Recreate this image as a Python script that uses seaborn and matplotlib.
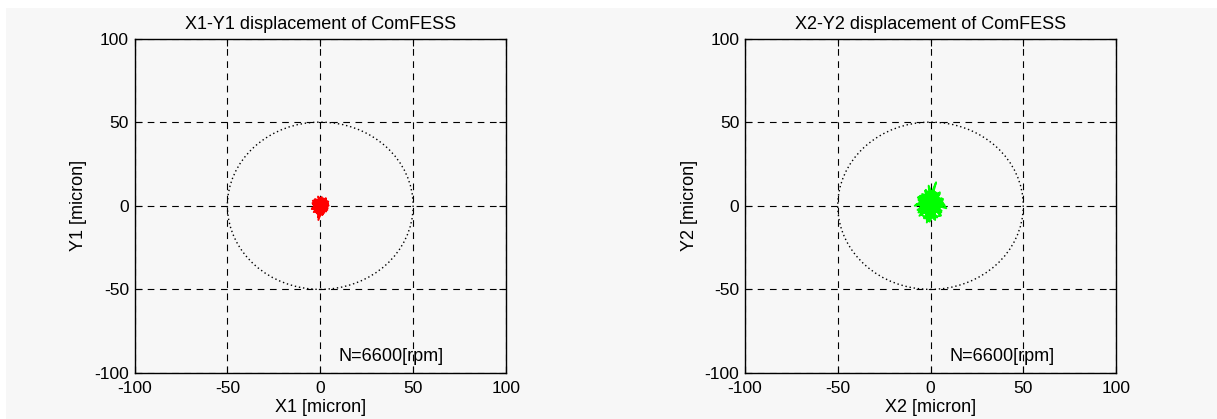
import matplotlib
matplotlib.use("Agg")
import matplotlib.pyplot as plt
import seaborn as sns
import pandas as pd
from matplotlib.patches import Rectangle, Circle

# ---- data ----
titles = ["X1-Y1 displacement of ComFESS", "X2-Y2 displacement of ComFESS"]
xlabels = ["X1 [micron]", "X2 [micron]"]
ylabels = ["Y1 [micron]", "Y2 [micron]"]
ticks = [-100, -50, 0, 50, 100]
clearance_radius = 50
speed_label = "N=6600[rpm]"

orbit1_x = [0.0, 3.0, -3.5, 4.2, -4.0, 1.5, -1.2, 3.8, -3.6, 0.8, -0.6, 4.5, -2.8, 2.2, -4.4,
            2.9, -1.0, 0.2, 4.0, -4.2, 1.4, -2.0, 3.1, -3.0, -0.4, 4.3, -4.5, 1.6, -1.6, 0.7,
            -1.2, 2.2, -3.2, 3.2, 0.0, 2.6, -2.4, 1.0, -3.8, 3.6, -0.8, 0.3]
orbit1_y = [0.0, 4.5, -3.8, 1.2, 3.0, -5.0, 5.5, -2.5, -1.0, 5.2, -4.8, 0.2, 4.0, -4.2, -1.5,
            3.6, -8.5, 4.6, -1.5, 1.6, -5.2, 3.2, 4.0, -3.0, -6.0, 2.5, -2.0, 4.4, -4.0, 1.5,
            -6.8, 0.4, 3.4, -3.4, 0.2, -2.0, 2.2, -5.5, 0.8, 2.8, 4.8, -0.5]

orbit2_x = [0.0, 5.0, -6.0, 6.5, -6.8, 2.0, -2.5, 5.8, -5.5, 1.0, -1.5, 7.0, -4.5, 3.5, -7.0,
            4.5, -2.0, 2.0, 8.5, -6.5, 2.5, -3.5, 5.0, -5.0, -0.5, 6.0, -8.5, 2.8, -2.8, 1.5,
            -2.0, 4.0, -5.5, 5.5, 0.0, 3.0, 1.5, -4.0, 6.5, -6.0, 0.5, -1.0, 4.5, -7.5, 7.5,
            -3.0, 2.5, 0.5, -5.0, 6.0, -6.5, 4.0, -4.0, 5.5, -3.5, 6.8, -6.0, 3.0]
orbit2_y = [1.5, 8.0, -6.0, 3.0, 5.0, -8.0, 9.5, -4.0, -1.0, 9.0, -8.5, 1.0, 7.0, -7.0, -2.5,
            6.5, -10.0, 8.5, -1.5, 3.5, -8.0, 6.0, 7.0, -5.0, -9.5, 4.5, 0.0, 8.0, -6.5, 3.0,
            -9.0, 1.5, 6.0, -5.5, 2.0, 14.0, 10.0, -3.0, 2.0, 5.5, -7.0, 12.0, -3.5, 1.0, 0.5,
            9.0, -8.5, 2.0, 6.0, -3.0, -4.0, 7.5, 6.5, -6.0, -7.5, 4.0, 3.5, -2.0]

orbit_colors = ["#ff0000", "#00ff00"]

# ---- figure ----
sns.set_style("ticks")
plt.rcParams['font.family'] = ['Liberation Sans', 'DejaVu Sans']
plt.rcParams['font.size'] = 13
plt.rcParams['axes.unicode_minus'] = False
plt.rcParams['text.color'] = 'black'
plt.rcParams['axes.labelcolor'] = 'black'
plt.rcParams['xtick.color'] = 'black'
plt.rcParams['ytick.color'] = 'black'

bg = "#f7f7f7"
fig = plt.figure(figsize=(12.17, 4.19), dpi=100, facecolor="white")
fig.patches.append(Rectangle((6 / 1217, 0), 1 - 6 / 1217, 1 - 8 / 419,
                             transform=fig.transFigure, facecolor=bg,
                             edgecolor="none", zorder=-10))

W, H = 1217, 419
boxes = [(134.5, 506), (745, 1116)]
top, bottom = 38.5, 373
orbits = [(orbit1_x, orbit1_y), (orbit2_x, orbit2_y)]

for i in range(2):
    l, r = boxes[i]
    ax = fig.add_axes([l / W, 1 - bottom / H, (r - l) / W, (bottom - top) / H])
    ax.set_facecolor(bg)
    ax.set_xlim(-100, 100)
    ax.set_ylim(-100, 100)
    ax.set_xticks(ticks)
    ax.set_yticks(ticks)
    ax.grid(True, color="black", linestyle=(0, (6, 5)), linewidth=0.8)
    ax.set_axisbelow(True)
    ax.tick_params(direction="in", top=True, right=True, length=5, width=0.8,
                   colors="black", labelsize=12.5)
    ax.tick_params(axis="x", pad=6)
    ax.tick_params(axis="y", pad=4)
    for s in ax.spines.values():
        s.set_color("black")
        s.set_linewidth(1.0)
        s.set_visible(True)
    circ = Circle((0, 0), clearance_radius, fill=False, edgecolor="black",
                  linestyle=(0, (1, 2)), linewidth=1.0, zorder=2)
    ax.add_patch(circ)
    ox, oy = orbits[i]
    df = pd.DataFrame({"x": ox, "y": oy})
    sns.lineplot(data=df, x="x", y="y", sort=False, estimator=None, ax=ax,
                 color=orbit_colors[i], linewidth=1.4, zorder=3)
    ax.text(10, -90, speed_label, ha="left", va="center", fontsize=13)
    ax.set_title(titles[i], fontsize=13, pad=7)
    ax.set_xlabel(xlabels[i], fontsize=13, labelpad=2)
    ax.set_ylabel(ylabels[i], fontsize=13, labelpad=5)

fig.savefig("out.png", dpi=100, facecolor="white")
